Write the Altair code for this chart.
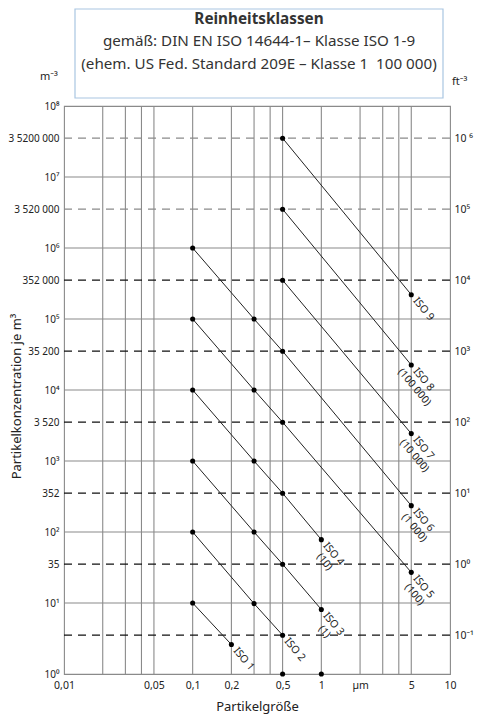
import altair as alt
import pandas as pd

# ---------------- data ----------------
x_grid = [0.02, 0.03, 0.04, 0.05, 0.1, 0.2, 0.3, 0.4, 0.5, 1, 2, 3, 4, 5]
y_solid = [10, 100, 1000, 1e4, 1e5, 1e6, 1e7]
y_dash_black = [3.52, 35.2, 352, 3520, 35200, 352000]
y_dash_gray = [3520000, 35200000]

x_tick_vals = [0.01, 0.05, 0.1, 0.2, 0.5, 1, 2, 5, 10]
x_tick_labels = ["0,01", "0,05", "0,1", "0,2", "0,5", "1", "µm", "5", "10"]

left_vals = [1, 10, 35.2, 100, 352, 1000, 3520, 1e4, 35200, 1e5, 352000, 1e6,
             3520000, 1e7, 35200000, 1e8]
left_labels = ["10⁰", "10¹", "35", "10²", "352", "10³", "3 520", "10⁴", "35 200",
               "10⁵", "352 000", "10⁶", "3 520 000", "10⁷", "3 5200 000", "10⁸"]

right_vals = [3.52, 35.2, 352, 3520, 35200, 352000, 3520000, 35200000]
right_labels = ["10⁻¹", "10⁰", "10¹", "10²", "10³", "10⁴", "10⁵", "10 ⁶"]

iso_names = ["ISO 1", "ISO 2", "ISO 3", "ISO 4", "ISO 5", "ISO 6", "ISO 7", "ISO 8", "ISO 9"]
iso_labels = ["ISO 1", "ISO 2", "ISO 3\n(1)", "ISO 4\n(10)", "ISO 5\n(100)",
              "ISO 6\n(1 000)", "ISO 7\n(10 000)", "ISO 8\n(100 000)", "ISO 9"]
iso_sizes = [
    [0.1, 0.2],
    [0.1, 0.3, 0.5],
    [0.1, 0.3, 0.5, 1],
    [0.1, 0.3, 0.5, 1],
    [0.1, 0.3, 0.5, 5],
    [0.1, 0.3, 0.5, 5],
    [0.5, 5],
    [0.5, 5],
    [0.5, 5],
]
iso_conc = [
    [10, 2.6],
    [100, 9.8, 3.52],
    [1000, 100, 35.2, 8.1],
    [10000, 1000, 352, 78],
    [100000, 10000, 3520, 27],
    [1000000, 100000, 35200, 235],
    [352000, 2430],
    [3520000, 22500],
    [35200000, 220000],
]
bottom_x = [0.5, 1]
bottom_y = [1, 1]

title_lines = ["Reinheitsklassen",
               "gemäß: DIN EN ISO 14644-1– Klasse ISO 1-9",
               "(ehem. US Fed. Standard 209E – Klasse 1\u00a0 100 000)"]
unit_left = "m⁻³"
unit_right = "ft⁻³"

# ---------------- tables ----------------
rows = []
for name, xs, ys in zip(iso_names, iso_sizes, iso_conc):
    for xv, yv in zip(xs, ys):
        rows.append({"iso": name, "size": xv, "conc": yv})
iso_df = pd.DataFrame(rows)
lab_df = pd.DataFrame({
    "iso": iso_names,
    "label": iso_labels,
    "size": [xs[-1] for xs in iso_sizes],
    "conc": [ys[-1] for ys in iso_conc],
})
bottom_df = pd.DataFrame({"size": bottom_x, "conc": bottom_y})


def label_expr(vals, labels):
    expr = "''"
    for v, l in reversed(list(zip(vals, labels))):
        expr = f"abs(datum.value - {float(v)!r}) <= {float(v) * 1e-6!r} ? '{l}' : ({expr})"
    return expr


TXT = "#222222"
GRID = "#8a8a8a"

x_scale = alt.Scale(type="log", domain=[0.01, 10], nice=False)
y_scale = alt.Scale(type="log", domain=[1, 1e8], nice=False)

x_axis = alt.Axis(values=x_tick_vals, labelExpr=label_expr(x_tick_vals, x_tick_labels),
                  grid=False, ticks=False, domain=False, labelFlush=False,
                  labelPadding=6, labelFontSize=10.5, labelColor=TXT,
                  title="Partikelgröße", titleFontSize=13, titleFontWeight="normal",
                  titleColor=TXT, titlePadding=10)
left_axis = alt.Axis(values=left_vals, labelExpr=label_expr(left_vals, left_labels),
                     grid=False, ticks=False, domain=False, labelFlush=False,
                     labelPadding=5, labelFontSize=10, labelColor=TXT,
                     title="Partikelkonzentration je m³", titleFontSize=13,
                     titleFontWeight="normal", titleColor=TXT,
                     titleX=-41, titleY=290, titleBaseline="bottom")
right_axis = alt.Axis(values=right_vals, labelExpr=label_expr(right_vals, right_labels),
                      orient="right", grid=False, ticks=False, domain=False,
                      labelFlush=False, labelPadding=4, labelFontSize=10.5,
                      labelColor=TXT, title=None)

# ---------------- layers ----------------
one = pd.DataFrame({"a": [0]})

box = alt.Chart(one).mark_rect(fill="white", fillOpacity=0, stroke="#a9c6e2",
                                strokeWidth=1.2).encode(
    x=alt.value(11), x2=alt.value(379), y=alt.value(-97), y2=alt.value(-8))

t1 = alt.Chart(pd.DataFrame({"t": [title_lines[0]]})).mark_text(
    fontSize=15.3, fontWeight="bold", color="#333333", baseline="middle").encode(
    x=alt.value(195), y=alt.value(-87.5), text="t:N")
t2 = alt.Chart(pd.DataFrame({"t": [title_lines[1]]})).mark_text(
    fontSize=15.2, color="#333333", baseline="middle").encode(
    x=alt.value(195), y=alt.value(-65), text="t:N")
t3 = alt.Chart(pd.DataFrame({"t": [title_lines[2]]})).mark_text(
    fontSize=15.2, color="#333333", baseline="middle").encode(
    x=alt.value(195), y=alt.value(-42), text="t:N")
u1 = alt.Chart(pd.DataFrame({"t": [unit_left]})).mark_text(
    fontSize=11, color=TXT, baseline="middle").encode(
    x=alt.value(-15), y=alt.value(-29), text="t:N")
u2 = alt.Chart(pd.DataFrame({"t": [unit_right]})).mark_text(
    fontSize=11, color=TXT, baseline="middle", align="left").encode(
    x=alt.value(388), y=alt.value(-24), text="t:N")

vgrid = alt.Chart(pd.DataFrame({"x": x_grid})).mark_rule(
    color=GRID, strokeWidth=1.1).encode(
    x=alt.X("x:Q", scale=x_scale, axis=x_axis))
hgrid = alt.Chart(pd.DataFrame({"y": y_solid})).mark_rule(
    color=GRID, strokeWidth=1.1).encode(
    y=alt.Y("y:Q", scale=y_scale, axis=left_axis))
hdash = alt.Chart(pd.DataFrame({"y": y_dash_black})).mark_rule(
    color="#111111", strokeWidth=1.2, strokeDash=[8, 6]).encode(
    y=alt.Y("y:Q", scale=y_scale, axis=right_axis))
hdash2 = alt.Chart(pd.DataFrame({"y": y_dash_gray})).mark_rule(
    color=GRID, strokeWidth=1.2, strokeDash=[8, 6]).encode(
    y=alt.Y("y:Q", scale=y_scale, axis=None))

lines = alt.Chart(iso_df).mark_line(color="#222222", strokeWidth=1).encode(
    x=alt.X("size:Q", scale=x_scale, axis=None),
    y=alt.Y("conc:Q", scale=y_scale, axis=None),
    detail="iso:N")
pts = alt.Chart(iso_df).mark_point(filled=True, color="#000000", size=26,
                                   opacity=1).encode(
    x=alt.X("size:Q", scale=x_scale, axis=None),
    y=alt.Y("conc:Q", scale=y_scale, axis=None))
bpts = alt.Chart(bottom_df).mark_point(filled=True, color="#000000", size=26,
                                       opacity=1).encode(
    x=alt.X("size:Q", scale=x_scale, axis=None),
    y=alt.Y("conc:Q", scale=y_scale, axis=None))
labels = alt.Chart(lab_df).mark_text(
    angle=50, align="center", baseline="top", dx=19, dy=-5, fontSize=10.5,
    lineBreak="\n", lineHeight=12, color=TXT).encode(
    x=alt.X("size:Q", scale=x_scale, axis=None),
    y=alt.Y("conc:Q", scale=y_scale, axis=None),
    text="label:N")

chart = alt.layer(vgrid, box, t1, t2, t3, u1, u2, hgrid, hdash, hdash2,
                  lines, pts, bpts, labels).resolve_axis(
    x="independent", y="independent").properties(
    width=386, height=568,
    padding={"left": 0, "top": 0, "right": 4, "bottom": 2},
).configure(font="Noto Sans").configure_view(stroke=GRID, strokeWidth=1.1)

chart.save("out.html", embed_options={"renderer": "svg", "actions": False})
